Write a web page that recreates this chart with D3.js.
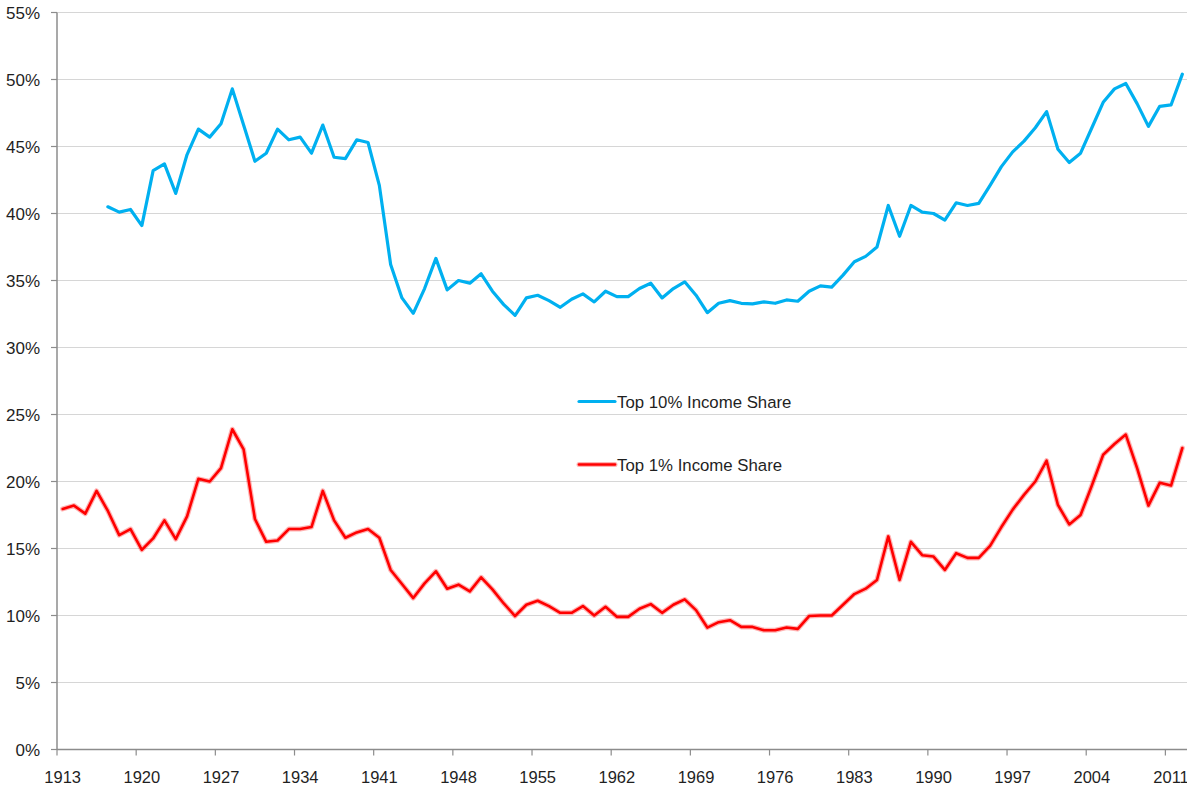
<!DOCTYPE html>
<html>
<head>
<meta charset="utf-8">
<script src="https://cdn.jsdelivr.net/npm/d3@7"></script>
<style>
  html, body { margin: 0; padding: 0; background: #fff; }
  svg { display: block; }
  text { font-family: "Liberation Sans", Arial, sans-serif; fill: #1f1f1f; }
</style>
</head>
<body>
<svg id="chart" width="1187" height="787"></svg>
<script>
// ---------- DATA ----------
const years = d3.range(1913, 2013);
const xTickYears = [1913, 1920, 1927, 1934, 1941, 1948, 1955, 1962, 1969, 1976, 1983, 1990, 1997, 2004, 2011];
const yTicks = [0, 5, 10, 15, 20, 25, 30, 35, 40, 45, 50, 55];

// Top 10% income share (starts 1917)
const top10Years = d3.range(1917, 2013);
const top10 = [
  40.5, 40.1, 40.3, 39.1, 43.2, 43.7, 41.5, 44.4, 46.3, 45.7,   // 1917-1926
  46.7, 49.3, 46.6, 43.9, 44.5, 46.3, 45.5, 45.7, 44.5, 46.6,   // 1927-1936
  44.2, 44.1, 45.5, 45.3, 42.1, 36.2, 33.7, 32.55, 34.4, 36.65, // 1937-1946
  34.3, 35.0, 34.8, 35.5, 34.2, 33.2, 32.4, 33.7, 33.9, 33.5,   // 1947-1956
  33.0, 33.6, 34.0, 33.4, 34.2, 33.8, 33.8, 34.4, 34.8, 33.7,   // 1957-1966
  34.4, 34.9, 33.9, 32.6, 33.3, 33.5, 33.3, 33.25, 33.4, 33.3,  // 1967-1976
  33.55, 33.45, 34.2, 34.6, 34.5, 35.4, 36.4, 36.8, 37.5, 40.6, // 1977-1986
  38.3, 40.6, 40.1, 40.0, 39.5, 40.8, 40.6, 40.75, 42.1, 43.5,  // 1987-1996
  44.6, 45.4, 46.4, 47.6, 44.8, 43.8, 44.5, 46.4, 48.3, 49.3,   // 1997-2006
  49.7, 48.2, 46.5, 48.0, 48.1, 50.4                            // 2007-2012
];

// Top 1% income share (1913-2012)
const top1Years = d3.range(1913, 2013);
const top1 = [
  17.95, 18.2, 17.6, 19.3, 17.8, 16.0, 16.45, 14.9, 15.75, 17.1,  // 1913-1922
  15.7, 17.4, 20.2, 20.0, 21.0, 23.9, 22.4, 17.2, 15.5, 15.6,     // 1923-1932
  16.45, 16.45, 16.6, 19.3, 17.1, 15.8, 16.2, 16.45, 15.8, 13.4,  // 1933-1942
  12.35, 11.3, 12.4, 13.3, 12.0, 12.3, 11.8, 12.85, 11.95, 10.9,  // 1943-1952
  9.96, 10.8, 11.1, 10.7, 10.2, 10.2, 10.7, 10.0, 10.65, 9.9,     // 1953-1962
  9.9, 10.5, 10.85, 10.2, 10.8, 11.2, 10.4, 9.1, 9.5, 9.65,       // 1963-1972
  9.15, 9.15, 8.9, 8.9, 9.1, 9.0, 9.96, 10.0, 10.0, 10.8,         // 1973-1982
  11.6, 12.0, 12.65, 15.9, 12.65, 15.5, 14.5, 14.4, 13.4, 14.65,  // 1983-1992
  14.3, 14.3, 15.2, 16.6, 17.9, 19.0, 20.0, 21.55, 18.25, 16.8,   // 1993-2002
  17.5, 19.7, 22.0, 22.8, 23.5, 21.0, 18.2, 19.9, 19.7, 22.5      // 2003-2012
];

const seriesNames = ["Top 10% Income Share", "Top 1% Income Share"];
const seriesColors = ["#00b0f0", "#ff0000"];

// ---------- CHART ----------
const svg = d3.select("#chart");
const mLeft = 57, mRight = 1188, mTop = 12.5, mBottom = 749.5;

const x = d3.scaleBand().domain(years).range([mLeft, mRight]);
const bw = x.bandwidth();
const xc = yr => x(yr) + bw / 2;
const y = d3.scaleLinear().domain([0, 55]).range([mBottom, mTop]);

// gridlines
svg.append("g").selectAll("line").data(yTicks.filter(t => t > 0)).join("line")
  .attr("x1", mLeft).attr("x2", 1187)
  .attr("y1", d => y(d)).attr("y2", d => y(d))
  .attr("stroke", "#d6d6d6").attr("stroke-width", 1.2);

// y axis
const yAxis = svg.append("g");
yAxis.append("line").attr("x1", mLeft).attr("x2", mLeft).attr("y1", mTop).attr("y2", mBottom)
  .attr("stroke", "#8c8c8c").attr("stroke-width", 1.5);
yAxis.selectAll(".yt").data(yTicks).join("line")
  .attr("x1", mLeft - 6).attr("x2", mLeft).attr("y1", d => y(d)).attr("y2", d => y(d))
  .attr("stroke", "#8c8c8c").attr("stroke-width", 1.2);
yAxis.selectAll("text").data(yTicks).join("text")
  .attr("x", 40).attr("y", d => y(d)).attr("dy", "0.4em")
  .attr("text-anchor", "end").attr("font-size", 17)
  .text(d => d + "%");

// x axis
const xAxis = svg.append("g");
xAxis.append("line").attr("x1", mLeft).attr("x2", 1187).attr("y1", mBottom).attr("y2", mBottom)
  .attr("stroke", "#8c8c8c").attr("stroke-width", 1.5);
xAxis.selectAll(".xt").data(xTickYears).join("line")
  .attr("x1", d => x(d)).attr("x2", d => x(d)).attr("y1", mBottom).attr("y2", mBottom + 6)
  .attr("stroke", "#8c8c8c").attr("stroke-width", 1.2);
xAxis.selectAll("text").data(xTickYears).join("text")
  .attr("x", d => xc(d)).attr("y", 783)
  .attr("text-anchor", "middle").attr("font-size", 16.5)
  .text(d => d);

// lines
const line = d3.line().x(d => xc(d[0])).y(d => y(d[1]));
const d10 = top10Years.map((yr, i) => [yr, top10[i]]);
const d1 = top1Years.map((yr, i) => [yr, top1[i]]);

svg.append("path").datum(d10).attr("d", line)
  .attr("fill", "none").attr("stroke", seriesColors[0]).attr("stroke-width", 3.2)
  .attr("stroke-linejoin", "round").attr("stroke-linecap", "round");

svg.append("path").datum(d1).attr("d", line)
  .attr("fill", "none").attr("stroke", seriesColors[1]).attr("stroke-opacity", 0.3).attr("stroke-width", 5)
  .attr("stroke-linejoin", "round").attr("stroke-linecap", "round");
svg.append("path").datum(d1).attr("d", line)
  .attr("fill", "none").attr("stroke", seriesColors[1]).attr("stroke-width", 2.6)
  .attr("stroke-linejoin", "round").attr("stroke-linecap", "round");

// legend
const legendY = [401.5, 464.5];
const lg = svg.append("g");
seriesNames.forEach((name, i) => {
  if (i === 1) {
    lg.append("line").attr("x1", 579).attr("x2", 615).attr("y1", legendY[i]).attr("y2", legendY[i])
      .attr("stroke", seriesColors[i]).attr("stroke-opacity", 0.3).attr("stroke-width", 5).attr("stroke-linecap", "round");
  }
  lg.append("line").attr("x1", 579).attr("x2", 615).attr("y1", legendY[i]).attr("y2", legendY[i])
    .attr("stroke", seriesColors[i]).attr("stroke-width", i === 0 ? 3.2 : 2.6).attr("stroke-linecap", "round");
  lg.append("text").attr("x", 617).attr("y", legendY[i]).attr("dy", "0.36em")
    .attr("font-size", 16.8).text(name);
});
</script>
</body>
</html>
